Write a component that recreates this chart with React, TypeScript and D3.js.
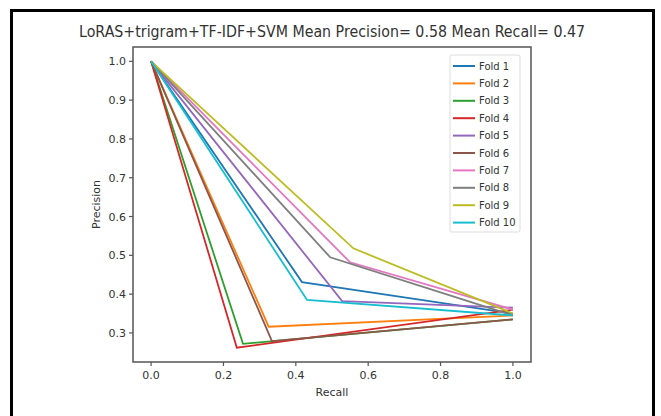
import React from "react";
import * as d3 from "d3";

const folds = ["Fold 1", "Fold 2", "Fold 3", "Fold 4", "Fold 5", "Fold 6", "Fold 7", "Fold 8", "Fold 9", "Fold 10"];
const colors = ["#1f77b4", "#ff7f0e", "#2ca02c", "#d62728", "#9467bd", "#8c564b", "#e377c2", "#7f7f7f", "#bcbd22", "#17becf"];
// each fold: recall values and precision values
const recallVals = [
  [0, 0.417, 1],
  [0, 0.325, 1],
  [0, 0.254, 1],
  [0, 0.237, 1],
  [0, 0.528, 1],
  [0, 0.334, 1],
  [0, 0.55, 1],
  [0, 0.495, 1],
  [0, 0.559, 1],
  [0, 0.431, 1],
];
const precisionVals = [
  [1, 0.431, 0.35],
  [1, 0.316, 0.345],
  [1, 0.272, 0.335],
  [1, 0.262, 0.36],
  [1, 0.382, 0.365],
  [1, 0.279, 0.335],
  [1, 0.482, 0.36],
  [1, 0.495, 0.345],
  [1, 0.518, 0.35],
  [1, 0.385, 0.345],
];
const xTicks = [0, 0.2, 0.4, 0.6, 0.8, 1.0];
const yTicks = [0.3, 0.4, 0.5, 0.6, 0.7, 0.8, 0.9, 1.0];
const title = "LoRAS+trigram+TF-IDF+SVM Mean Precision= 0.58 Mean Recall= 0.47";

export default function App() {
  const W = 661, H = 416;
  const left = 133, right = 531, top = 47, bottom = 362;
  const allY = precisionVals.flat();
  const yMin = d3.min(allY) as number, yMax = d3.max(allY) as number;
  const yPad = (yMax - yMin) * 0.05;
  const x = d3.scaleLinear().domain([-0.05, 1.05]).range([left, right]);
  const y = d3.scaleLinear().domain([yMin - yPad, yMax + yPad]).range([bottom, top]);
  const line = d3.line<[number, number]>().x(d => x(d[0])).y(d => y(d[1]));
  const font = "DejaVu Sans, sans-serif";
  const txt = "#333";
  const legX = 450, legY = 55, legW = 70, legH = 177, legStep = 17.4;
  return (
    <svg width={W} height={H} style={{ position: "absolute", left: 0, top: 0, background: "#fff" }}>
      <rect x={0} y={0} width={W} height={H} fill="#fff" />
      {/* outer frame */}
      <path d={`M11.5,${H} V10.5 H653.5 V${H}`} fill="none" stroke="#000" strokeWidth={3} />
      <text x={(left + right) / 2} y={37} textAnchor="middle" fontFamily={font} fontSize={15} fill={txt}
        textLength={506} lengthAdjust="spacingAndGlyphs">{title}</text>
      {/* lines */}
      {folds.map((f, i) => (
        <path key={f} d={line(recallVals[i].map((r, j) => [r, precisionVals[i][j]]) as [number, number][]) || ""}
          fill="none" stroke={colors[i]} strokeWidth={1.8} strokeLinejoin="miter" />
      ))}
      {/* spines */}
      <rect x={left} y={top} width={right - left} height={bottom - top} fill="none" stroke="#555" strokeWidth={1.5} />
      {/* x ticks */}
      {xTicks.map(t => (
        <g key={"x" + t}>
          <line x1={x(t)} x2={x(t)} y1={bottom} y2={bottom + 4} stroke="#555" strokeWidth={1.2} />
          <text x={x(t)} y={379} textAnchor="middle" fontFamily={font} fontSize={11} fill={txt}>{d3.format(".1f")(t)}</text>
        </g>
      ))}
      {yTicks.map(t => (
        <g key={"y" + t}>
          <line x1={left - 4} x2={left} y1={y(t)} y2={y(t)} stroke="#555" strokeWidth={1.2} />
          <text x={left - 7} y={y(t) + 4} textAnchor="end" fontFamily={font} fontSize={11} fill={txt}>{d3.format(".1f")(t)}</text>
        </g>
      ))}
      <text x={(left + right) / 2} y={396} textAnchor="middle" fontFamily={font} fontSize={11} fill={txt}>Recall</text>
      <text transform={`translate(100,${(top + bottom) / 2}) rotate(-90)`} textAnchor="middle" fontFamily={font} fontSize={11} fill={txt}>Precision</text>
      {/* legend */}
      <rect x={legX} y={legY} width={legW} height={legH} rx={2} fill="#fff" fillOpacity={0.8} stroke="#ddd" strokeWidth={1} />
      {folds.map((f, i) => (
        <g key={"l" + f}>
          <line x1={legX + 3} x2={legX + 25} y1={legY + 11 + i * legStep} y2={legY + 11 + i * legStep} stroke={colors[i]} strokeWidth={2} />
          <text x={legX + 29} y={legY + 14.5 + i * legStep} fontFamily={font} fontSize={10} fill={txt}>{f}</text>
        </g>
      ))}
    </svg>
  );
}
